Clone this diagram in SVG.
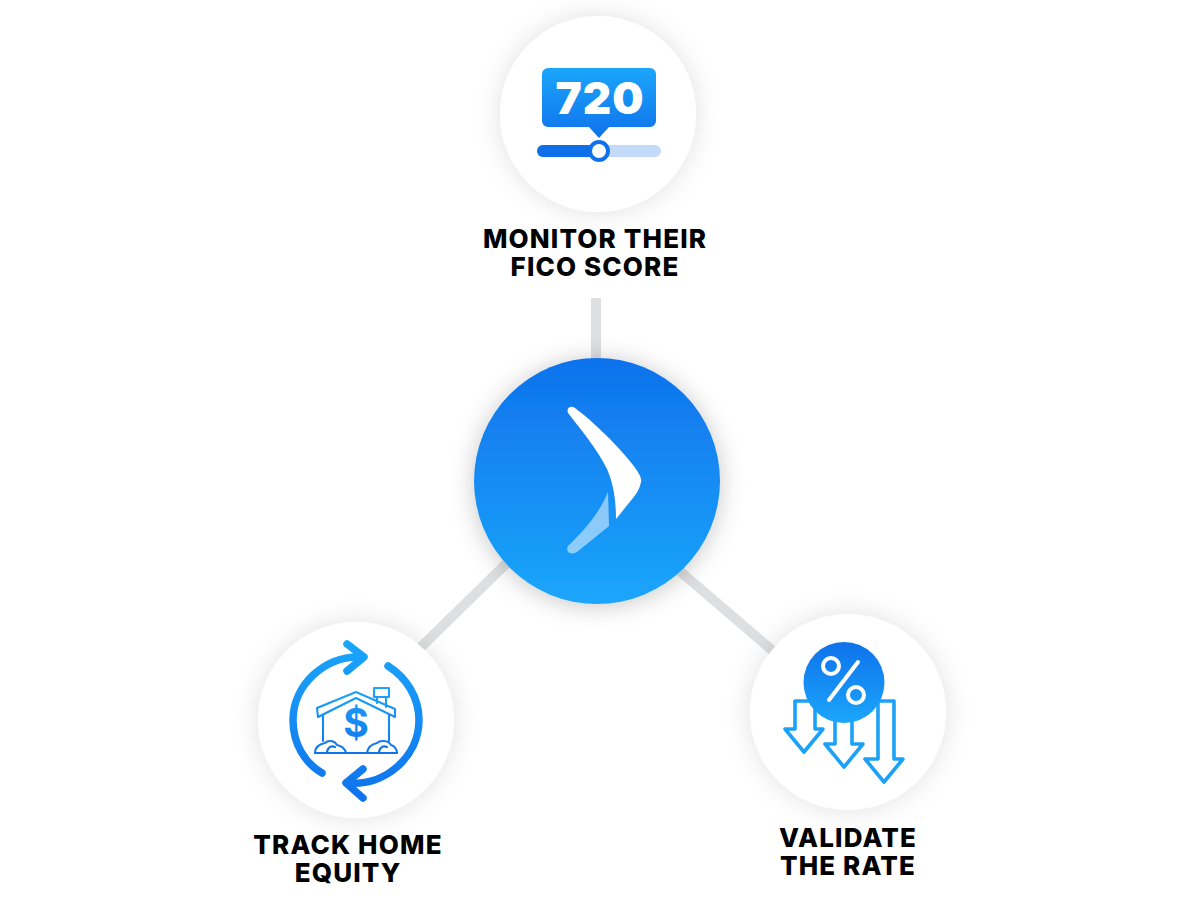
<svg xmlns="http://www.w3.org/2000/svg" width="1200" height="912" viewBox="0 0 1200 912">
<style>
.lbl{font-family:"Inter","Liberation Sans",sans-serif;font-weight:800;font-size:26px;letter-spacing:1.15px;fill:#000;text-anchor:middle}
.conn{stroke:#dddfe0;stroke-width:10;fill:none}
.disc{fill:#fff;filter:url(#soft)}
.ln{fill:none;stroke-linecap:round;stroke-linejoin:round}
</style>
<defs>
<filter id="soft" x="-30%" y="-30%" width="160%" height="160%"><feDropShadow dx="0" dy="0" stdDeviation="13" flood-color="#000" flood-opacity="0.12"/></filter>
<filter id="soft2" x="-30%" y="-30%" width="160%" height="160%"><feDropShadow dx="0" dy="2" stdDeviation="12" flood-color="#000" flood-opacity="0.22"/></filter>
<linearGradient id="g" x1="0" y1="0" x2="0" y2="1"><stop offset="0" stop-color="#0f72ec"/><stop offset="1" stop-color="#1ba6fb"/></linearGradient>
<linearGradient id="gr" x1="0" y1="0" x2="0" y2="1"><stop offset="0" stop-color="#1ba6fb"/><stop offset="1" stop-color="#0f72ec"/></linearGradient>
<linearGradient id="gu" gradientUnits="userSpaceOnUse" x1="0" y1="640" x2="0" y2="800"><stop offset="0" stop-color="#1ba6fb"/><stop offset="1" stop-color="#0f72ec"/></linearGradient>
<linearGradient id="gh" gradientUnits="userSpaceOnUse" x1="0" y1="688" x2="0" y2="755"><stop offset="0" stop-color="#1ba6fb"/><stop offset="1" stop-color="#0f72ec"/></linearGradient>
</defs>
<g id="connectors">
<line class="conn" x1="596" y1="298" x2="596" y2="370"/>
<line class="conn" x1="512" y1="558" x2="419" y2="649"/>
<line class="conn" x1="675" y1="567" x2="773" y2="651"/>
</g>
<g id="node-fico">
<circle class="disc" cx="598" cy="114" r="98"/>
<path d="M548 68H650a6 6 0 0 1 6 6V121a6 6 0 0 1-6 6H609L599 138L589 127H548a6 6 0 0 1-6-6V74a6 6 0 0 1 6-6Z" fill="url(#gr)"/>
<text x="600" y="114" font-family="Inter,'Liberation Sans',sans-serif" font-weight="900" font-size="44" letter-spacing="1" fill="#fff" text-anchor="middle">720</text>
<rect x="537" y="145" width="124" height="12" rx="6" fill="#c3daf9"/>
<path d="M543 145H599V157H543a6 6 0 0 1 0-12Z" fill="#0f6fe8"/>
<circle cx="599" cy="151" r="9" fill="#fff" stroke="#0f72ec" stroke-width="4"/>
<text class="lbl" x="595" y="248">MONITOR THEIR<tspan x="595" y="276">FICO SCORE</tspan></text>
</g>
<g id="node-equity">
<circle class="disc" cx="356" cy="720" r="98"/>
<g class="ln" stroke="url(#gu)" stroke-width="7.5">
<path d="M362 657C325 655 293 685 293 720C293 744 305 763 322 773"/>
<path d="M347 644L364 657L347 671"/>
<path d="M388 666C407 678 419 698 419 720C419 757 385 786 349 783"/>
<path d="M363 769L346 783L363 798"/>
</g>
<g class="ln" stroke="url(#gh)" stroke-width="2.1" fill="none">
<path d="M317 708L356 692L395 709V717L356 698L318 717Z"/>
<path d="M323 715V741M389 715V741"/>
<path d="M374 688H389V697H374ZM377 697V703M386 697V707"/>
<path d="M315 753H397"/>
<path d="M315 753C315 747 320 744 325 743C328 740 334 740 337 745C342 746 345 749 346 753"/>
<path d="M367 753C368 747 372 744 377 743C380 740 388 740 391 745C395 746 397 750 397 753"/>
<path d="M327 753C327 748 331 745 335 747M379 753C379 748 383 745 387 747"/>
</g>
<text x="356" y="737" font-family="Inter,'Liberation Sans',sans-serif" font-weight="700" font-size="39" fill="url(#gh)" text-anchor="middle">$</text>
<text class="lbl" x="348" y="854">TRACK HOME<tspan x="348" y="882">EQUITY</tspan></text>
</g>
<g id="node-rate">
<circle class="disc" cx="848" cy="712" r="98"/>
<g class="ln" stroke="#1ba2f8" stroke-width="3.6" fill="#fff">
<path d="M795 701H815V729H823L804 752L785 729H795Z"/>
<path d="M835 720H852V744H863L844 767L825 744H835Z"/>
<path d="M878 701H894V759H903L884 782L865 759H878Z"/>
</g>
<circle cx="844" cy="682.500" r="40.500" fill="url(#g)"/>
<g class="ln" stroke="#fff" stroke-width="4">
<circle cx="831" cy="666" r="8"/>
<circle cx="856" cy="695" r="8"/>
<path d="M858 662L829 700"/>
</g>
<text class="lbl" x="848" y="847">VALIDATE<tspan x="848" y="875">THE RATE</tspan></text>
</g>
<g id="node-center">
<circle cx="597" cy="481" r="123" fill="url(#g)" filter="url(#soft2)"/>
<path d="M568 413C566 408 571 405 575 408C595 423 620 448 633 465C639 473 642 478 641 482C640 488 637 493 633 498C627 505 622 512 616 519C616 498 613 483 607 469C597 449 582 431 568 413Z" fill="#fff"/>
<path d="M608 492L609 526L577 552C570 556 565 551 568 546C585 530 600 512 608 492Z" fill="#fff" fill-opacity="0.5"/>
</g>
</svg>
